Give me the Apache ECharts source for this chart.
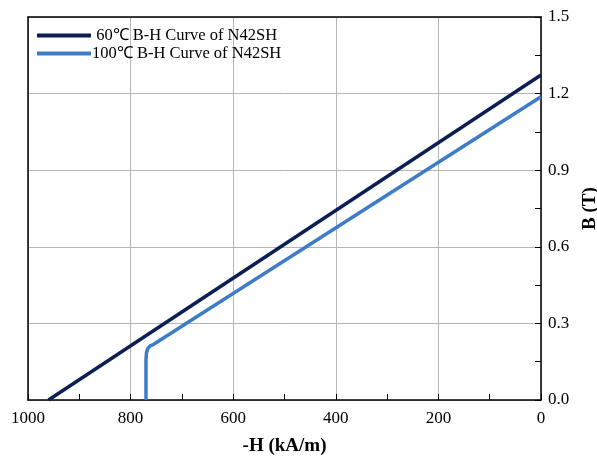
<!DOCTYPE html>
<html>
<head>
<meta charset="utf-8">
<script src="https://cdn.jsdelivr.net/npm/echarts@6/dist/echarts.min.js"></script>
<style>
  html, body { margin: 0; padding: 0; background: #fff; }
  #main { width: 597px; height: 457px; }
</style>
</head>
<body>
<div id="main"></div>
<script>
// 曲线名称
var seriesNames = [' 60\u2103 B-H Curve of N42SH', '100\u2103 B-H Curve of N42SH'];
// 60℃ 曲线 [-H, B]
var curve60 = [[960, 0], [0, 1.273]];
// 100℃ 曲线 [-H, B]，带拐点
var curve100 = [[0, 1.188], [755, 0.218], [762, 0.212], [767, 0.2], [769, 0.185], [770, 0.16], [770, 0]];
// 刻度
var xMin = 0, xMax = 1000, xStep = 200;
var yMin = 0, yMax = 1.5, yStep = 0.3;

var font = 'Liberation Serif';
var myChart = echarts.init(document.getElementById('main'));
var option = {
  backgroundColor: '#fff',
  textStyle: { fontFamily: font },
  grid: { left: 28, right: 56, top: 17, bottom: 57, outerBoundsMode: 'none', containLabel: false },
  legend: {
    orient: 'vertical',
    left: 32,
    top: 22,
    itemWidth: 54,
    itemHeight: 4,
    itemGap: 1,
    icon: 'rect',
    textStyle: { fontFamily: font, fontSize: 16.5, color: '#000', padding: [0, 0, 0, -4] },
    data: seriesNames
  },
  xAxis: [{
    type: 'value',
    inverse: true,
    min: xMin, max: xMax, interval: xStep,
    name: '-H (kA/m)',
    nameLocation: 'middle',
    nameGap: 37,
    nameTextStyle: { fontFamily: font, fontSize: 19, fontWeight: 'bold', color: '#000' },
    axisLine: { lineStyle: { color: '#000', width: 1.5 } },
    axisTick: { inside: true, length: 6, lineStyle: { color: '#000' } },
    minorTick: { show: true, splitNumber: 2, length: 6, lineStyle: { color: '#000' } },
    axisLabel: { fontFamily: font, fontSize: 17, color: '#000', margin: 10,
      formatter: function (v) { return String(v); } },
    splitLine: { lineStyle: { color: '#b5b5b5', width: 1 } }
  }, {
    type: 'value',
    position: 'top',
    inverse: true,
    min: xMin, max: xMax,
    axisLine: { show: true, onZero: false, lineStyle: { color: '#000', width: 1.5 } },
    axisTick: { show: false },
    axisLabel: { show: false },
    splitLine: { show: false }
  }],
  yAxis: [{
    type: 'value',
    position: 'right',
    min: yMin, max: yMax, interval: yStep,
    name: 'B (T)',
    nameLocation: 'middle',
    nameRotate: 90,
    nameGap: 37,
    nameTextStyle: { fontFamily: font, fontSize: 19, fontWeight: 'bold', color: '#000' },
    axisLine: { show: true, lineStyle: { color: '#000', width: 1.5 } },
    axisTick: { inside: true, length: 6, lineStyle: { color: '#000' } },
    minorTick: { show: true, splitNumber: 2, length: 6, lineStyle: { color: '#000' } },
    axisLabel: { fontFamily: font, fontSize: 17, color: '#000', margin: 7,
      formatter: function (v) { return v.toFixed(1); } },
    splitLine: { lineStyle: { color: '#b5b5b5', width: 1 } }
  }, {
    type: 'value',
    position: 'left',
    min: yMin, max: yMax,
    axisLine: { show: true, onZero: false, lineStyle: { color: '#000', width: 1.5 } },
    axisTick: { show: false },
    axisLabel: { show: false },
    splitLine: { show: false }
  }],
  series: [{
    name: seriesNames[0],
    type: 'line',
    showSymbol: false,
    lineStyle: { color: '#0c1f55', width: 3.5 },
    itemStyle: { color: '#0c1f55' },
    data: curve60
  }, {
    name: seriesNames[1],
    type: 'line',
    showSymbol: false,
    lineStyle: { color: '#3d7cc9', width: 3.5 },
    itemStyle: { color: '#3d7cc9' },
    data: curve100
  }]
};
myChart.setOption(option);
</script>
</body>
</html>
